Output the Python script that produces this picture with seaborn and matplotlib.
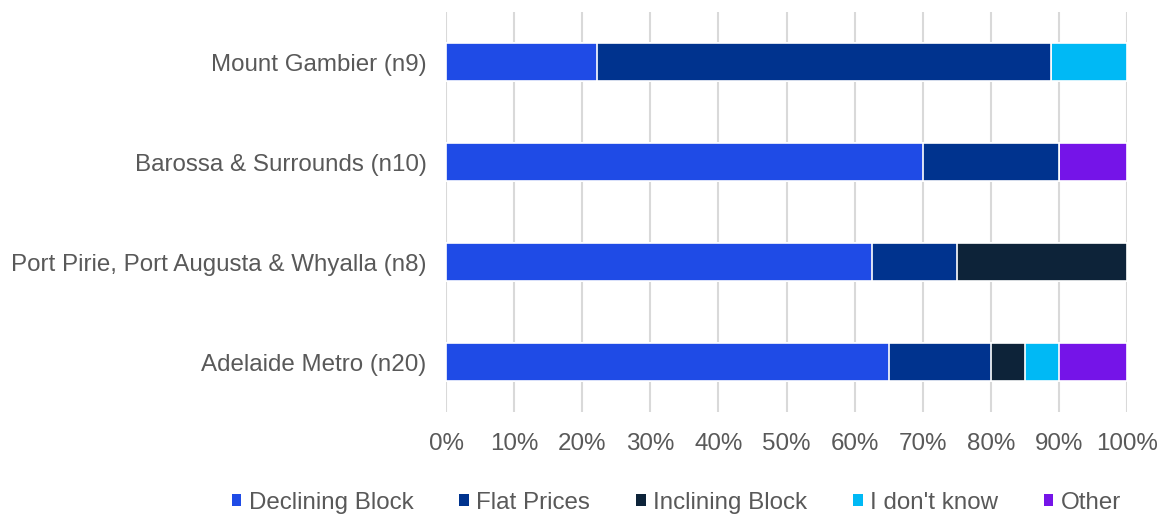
import matplotlib
matplotlib.use("Agg")
import matplotlib.pyplot as plt
import seaborn as sns
import pandas as pd
import numpy as np
from matplotlib.patches import Patch

regions = ["Mount Gambier (n9)", "Barossa & Surrounds (n10)",
           "Port Pirie, Port Augusta & Whyalla (n8)", "Adelaide Metro (n20)"]
series = ["Declining Block", "Flat Prices", "Inclining Block", "I don't know", "Other"]
declining = [22.2, 70.0, 62.5, 65.0]
flat = [66.7, 20.0, 12.5, 15.0]
inclining = [0.0, 0.0, 25.0, 5.0]
dont_know = [11.1, 0.0, 0.0, 5.0]
other = [0.0, 10.0, 0.0, 10.0]
colors = ["#1F4BE6", "#00338E", "#0D2339", "#00B9F5", "#7514E8"]

sns.set_theme(style="white")
plt.rcParams["font.family"] = ["Liberation Sans", "DejaVu Sans"]
text_color = "#595959"

df = pd.DataFrame({"region": regions, "Declining Block": declining, "Flat Prices": flat,
                   "Inclining Block": inclining, "I don't know": dont_know, "Other": other})
cum = df[series].cumsum(axis=1)

fig = plt.figure(figsize=(11.62, 5.14), dpi=100)
ax = fig.add_axes([446 / 1162, 1 - 412 / 514, 681 / 1162, 400 / 514])

for s, c in reversed(list(zip(series, colors))):
    sns.barplot(x=cum[s], y=df["region"], order=regions, color=c, orient="h",
                width=0.38, edgecolor="white", linewidth=1.2, saturation=1,
                ax=ax, zorder=3)

ax.set_xlim(0, 100)
ax.set_ylim(3.5, -0.5)
ax.set_xticks(np.arange(0, 101, 10))
ax.set_xticklabels([f"{v}%" for v in range(0, 101, 10)])
ax.grid(axis="x", color="#D9D9D9", linewidth=1.5, zorder=0)
ax.set_axisbelow(True)
for sp in ax.spines.values():
    sp.set_visible(False)
ax.set_xlabel("")
ax.set_ylabel("")
ax.tick_params(axis="both", length=0, labelsize=17.4, labelcolor=text_color)
ax.tick_params(axis="x", pad=15)
ax.tick_params(axis="y", pad=14)

handles = [Patch(facecolor=c, edgecolor="none") for c in colors]
fig.legend(handles, series, loc="center", bbox_to_anchor=(0.582, 0.022), ncol=5,
           frameon=False, fontsize=17.4, labelcolor=text_color, handlelength=0.4,
           handleheight=0.4, handletextpad=0.3, columnspacing=1.9)

fig.savefig("out.png", dpi=100)
